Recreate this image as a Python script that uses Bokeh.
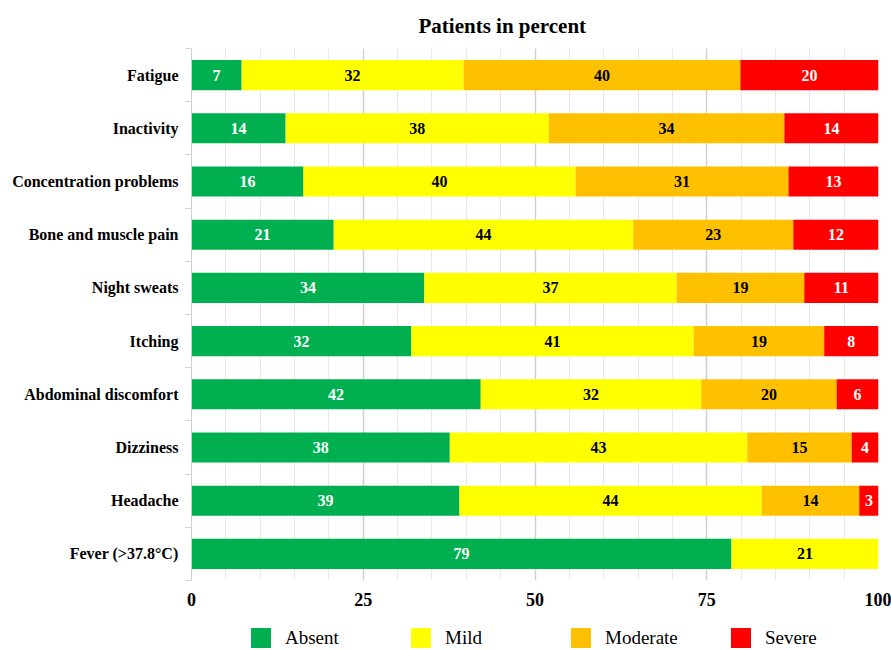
import numpy as np
from bokeh.plotting import figure
from bokeh.layouts import column
from bokeh.models import ColumnDataSource, FixedTicker, Legend, LegendItem, Title
from bokeh.core.properties import value
from bokeh.embed import file_html
from bokeh.resources import INLINE

symptoms = ["Fatigue", "Inactivity", "Concentration problems", "Bone and muscle pain",
            "Night sweats", "Itching", "Abdominal discomfort", "Dizziness", "Headache",
            "Fever (>37.8\u00b0C)"]
absent = [7.3, 13.7, 16.3, 20.7, 33.9, 32.0, 42.1, 37.6, 39.0, 78.6]
mild = [32.3, 38.3, 39.6, 43.6, 36.7, 41.1, 32.1, 43.3, 44.0, 21.4]
moderate = [40.3, 34.3, 31.0, 23.3, 18.6, 19.0, 19.7, 15.2, 14.2, 0.0]
severe = [20.1, 13.7, 13.1, 12.4, 10.8, 7.9, 6.1, 3.9, 2.8, 0.0]
series_names = ["Absent", "Mild", "Moderate", "Severe"]
colors = ["#00B050", "#FFFF00", "#FFC000", "#FF0000"]
text_colors = ["white", "black", "black", "white"]
x_ticks = [0, 25, 50, 75, 100]

FONT = "Liberation Serif"
n = len(symptoms)
ypos = [n - 0.5 - i for i in range(n)]

p = figure(width=891, height=615, output_backend="svg", toolbar_location=None,
           x_range=(0, 100), y_range=(0, n),
           min_border_left=191, min_border_right=13, min_border_top=48, min_border_bottom=35)
p.title = None
p.add_layout(Title(text="Patients in percent", text_font=FONT, text_font_size="21px",
                   text_font_style="bold", text_color="black", align="left", offset=227,
                   standoff=20, vertical_align="middle"), "above")
p.outline_line_color = None
p.background_fill_color = "white"

data = dict(y=ypos, Absent=absent, Mild=mild, Moderate=moderate, Severe=severe)
src = ColumnDataSource(data)
renderers = p.hbar_stack(series_names, y="y", height=0.565, color=colors, source=src,
                         line_color=None)

# segment labels
vals = np.array([absent, mild, moderate, severe])
ends = np.cumsum(vals, axis=0)
starts = ends - vals
tx, ty, tt, tc = [], [], [], []
for s in range(4):
    for i in range(n):
        if vals[s, i] > 0:
            tx.append((starts[s, i] + ends[s, i]) / 2)
            ty.append(ypos[i])
            tt.append(str(int(round(vals[s, i]))))
            tc.append(text_colors[s])
tsrc = ColumnDataSource(dict(x=tx, y=ty, t=tt, c=tc))
p.text(x="x", y="y", text="t", text_color="c", source=tsrc, text_align="center",
       text_baseline="middle", text_font=value(FONT), text_font_size="16px",
       text_font_style="bold")

# x axis
p.xaxis.ticker = FixedTicker(ticks=x_ticks)
p.xaxis.axis_line_color = None
p.xaxis.major_tick_line_color = None
p.xaxis.minor_tick_line_color = None
p.xaxis.major_label_text_font = FONT
p.xaxis.major_label_text_font_style = "bold"
p.xaxis.major_label_text_font_size = "18px"
p.xaxis.major_label_text_color = "black"
p.xaxis.major_label_standoff = 6

# grid
p.xgrid.ticker = FixedTicker(ticks=x_ticks, minor_ticks=list(range(0, 101, 5)))
p.xgrid.grid_line_color = "#d0d0d0"
p.xgrid.grid_line_width = 1.5
p.xgrid.minor_grid_line_color = "#e8e8e8"
p.ygrid.grid_line_color = None

# y axis
p.yaxis.ticker = FixedTicker(ticks=ypos, minor_ticks=list(range(0, n + 1)))
p.yaxis.major_label_overrides = {y: s for y, s in zip(ypos, symptoms)}
p.yaxis.axis_line_color = "#d0d0d0"
p.yaxis.major_tick_line_color = None
p.yaxis.major_tick_out = 0
p.yaxis.minor_tick_line_color = "#d0d0d0"
p.yaxis.minor_tick_out = 6
p.yaxis.minor_tick_in = 0
p.yaxis.major_label_standoff = 7
p.yaxis.major_label_text_font = FONT
p.yaxis.major_label_text_font_style = "bold"
p.yaxis.major_label_text_font_size = "16px"
p.yaxis.major_label_text_color = "black"

# legend strip (separate small figure so the legend is not clipped)
lg = figure(width=891, height=35, output_backend="svg", toolbar_location=None,
            x_range=(0, 1), y_range=(0, 1), min_border=0)
lg.outline_line_color = None
lg.axis.visible = False
lg.grid.grid_line_color = None
swatch = ColumnDataSource(dict(y=[-5], Absent=[0], Mild=[0], Moderate=[0], Severe=[0]))
lrs = lg.hbar_stack(series_names, y="y", height=0.5, color=colors, source=swatch,
                    line_color=None)
legend = Legend(items=[LegendItem(label=nm, renderers=[r], index=0) for nm, r in zip(series_names, lrs)],
                orientation="horizontal", location=(57, 0),
                glyph_width=25, glyph_height=25, label_standoff=12, spacing=0,
                label_width=123, padding=0, margin=0, border_line_color=None,
                background_fill_alpha=0, label_text_font=FONT, label_text_font_size="19px",
                label_text_color="black", label_height=25)
lg.add_layout(legend, "center")

layout = column(p, lg, spacing=0)
open("out.html", "w").write(file_html(layout, INLINE))
